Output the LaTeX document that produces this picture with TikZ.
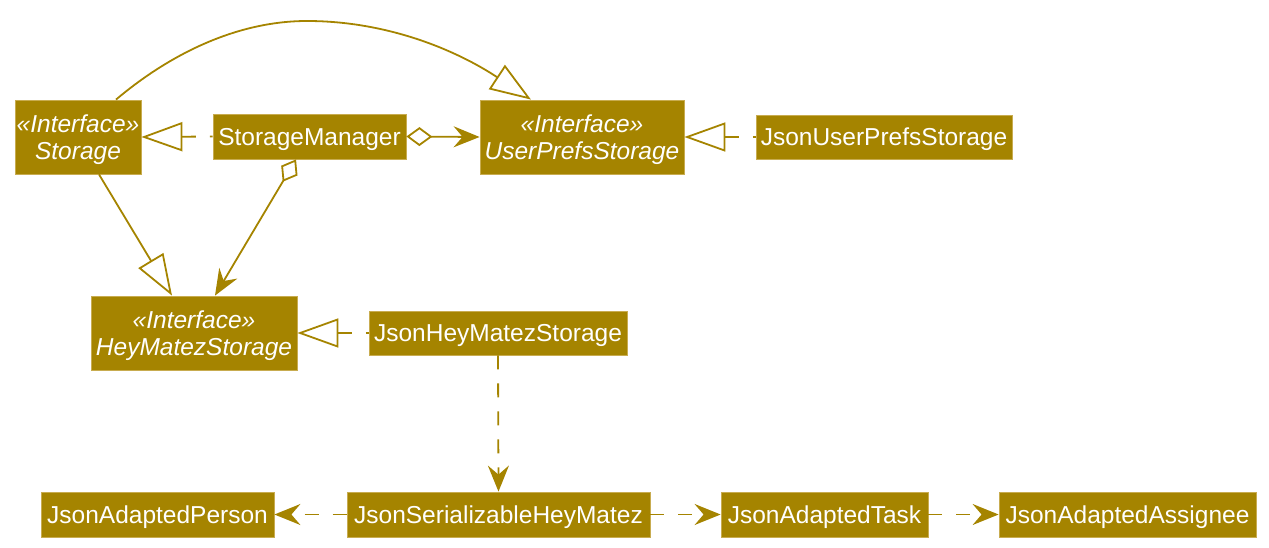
\documentclass[tikz,border=0pt]{standalone}
\usepackage{fontspec}
\setmainfont{Liberation Sans}
\usetikzlibrary{arrows.meta,calc}
\definecolor{umber}{RGB}{165,132,0}
\definecolor{umberedge}{RGB}{200,172,80}
\tikzset{
  box/.style={fill=umber,draw=umberedge,line width=0.8pt,text=white,inner sep=0pt},
  cls/.style={box,font=\fontsize{24.5}{27}\selectfont,text height=17.5pt,text depth=0pt},
  iface/.style={box},
  ifacetext/.style={text=white,inner sep=0pt,align=center,yshift=-2.5pt,
    font=\fontsize{24.5}{26.5}\selectfont\itshape},
  conn/.style={draw=umber,line width=1.8pt},
  dsh/.style={conn,dash pattern=on 14pt off 14pt},
  hollowtri/.tip={Triangle[open,length=41pt,width=29pt,line join=miter]},
  openarr/.tip={Stealth[length=26pt,width=21pt,inset=9pt]},
  hollowdia/.tip={Diamond[open,length=26pt,width=19pt]}
}
\begin{document}
\begin{tikzpicture}[x=1pt,y=-1pt]
\useasboundingbox (0,0) rectangle (1269,548);
\node[iface,minimum width=126pt,minimum height=74pt,
  label={[ifacetext]center:«Interface»\\Storage}] (st) at (78,137) {};
\node[cls,minimum width=193pt,minimum height=45pt] (sm) at (309.5,136.5) {StorageManager};
\node[iface,minimum width=204pt,minimum height=74pt,
  label={[ifacetext]center:«Interface»\\UserPrefsStorage}] (ups) at (582,137) {};
\node[cls,minimum width=256pt,minimum height=44pt] (jups) at (884,137) {JsonUserPrefsStorage};
\node[iface,minimum width=206pt,minimum height=74pt,
  label={[ifacetext]center:«Interface»\\HeyMatezStorage}] (hms) at (194,333) {};
\node[cls,minimum width=258pt,minimum height=44pt] (jhms) at (498,333) {JsonHeyMatezStorage};
\node[cls,minimum width=233pt,minimum height=45pt] (jap) at (157.5,514.5) {JsonAdaptedPerson};
\node[cls,minimum width=303pt,minimum height=45pt] (jsh) at (498.5,514.5) {JsonSerializableHeyMatez};
\node[cls,minimum width=207pt,minimum height=45pt] (jat) at (824.5,514.5) {JsonAdaptedTask};
\node[cls,minimum width=257pt,minimum height=45pt] (jaa) at (1127.5,514.5) {JsonAdaptedAssignee};

% Storage extends UserPrefsStorage (curved)
\draw[conn,-{hollowtri}] ($(st.north)+(38,0)$) .. controls (170,54) and (237,21) .. (307,21)
   .. controls (387,21) and (456,50) .. ($(ups.north)+(-51,0)$);
% Storage extends HeyMatezStorage
\draw[conn,-{hollowtri}] ($(st.south)+(21,0)$) -- ($(hms.north)+(-22,0)$);
% StorageManager implements Storage
\draw[dsh,{hollowtri}-] (st.east) -- (sm.west);
% StorageManager aggregates UserPrefsStorage
\draw[conn,{hollowdia}-{openarr}] (sm.east) -- (ups.west);
% StorageManager aggregates HeyMatezStorage
\draw[conn,{hollowdia}-{openarr}] ($(sm.south)+(-13.5,0)$) -- ($(hms.north)+(21,0)$);
% JsonUserPrefsStorage implements UserPrefsStorage
\draw[dsh,{hollowtri}-] (ups.east) -- (jups.west);
% JsonHeyMatezStorage implements HeyMatezStorage
\draw[dsh,{hollowtri}-] (hms.east) -- (jhms.west);
% dependencies
\draw[dsh,-{openarr}] (jhms.south) -- (jsh.north);
\draw[dsh,dash phase=14pt,{openarr}-] (jap.east) -- (jsh.west);
\draw[dsh,-{openarr}] (jsh.east) -- (jat.west);
\draw[dsh,-{openarr}] (jat.east) -- (jaa.west);
\end{tikzpicture}
\end{document}
